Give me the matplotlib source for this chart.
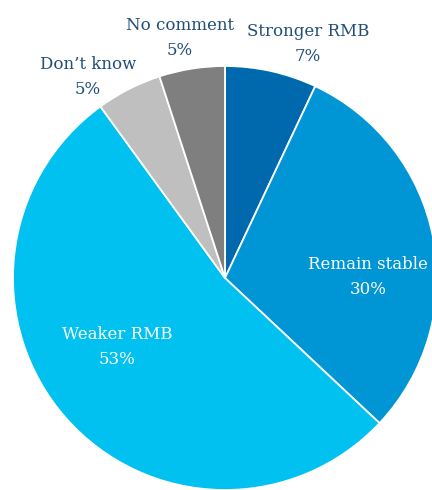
import matplotlib
matplotlib.use("Agg")
import matplotlib.pyplot as plt

# Survey responses: expected RMB movement
categories = ["Stronger RMB", "Remain stable", "Weaker RMB", "Don\u2019t know", "No comment"]
shares = [7, 30, 53, 5, 5]
colors = ["#0068AD", "#0095D4", "#00C1F0", "#BFBFBF", "#7F7F7F"]

# label anchor points (data units, pie radius = 1) and text colours
label_pos = [(0.392, 1.104), (0.675, 0.005), (-0.509, -0.325), (-0.646, 0.948), (-0.212, 1.132)]
label_col = ["#1F4E79", "white", "white", "#1F4E79", "#1F4E79"]

W, H = 432, 490
fig = plt.figure(figsize=(W / 100, H / 100), dpi=100)
cx, cy, r = 225, 278, 212
ax = fig.add_axes([(cx - r) / W, (H - cy - r) / H, 2 * r / W, 2 * r / H])
ax.pie(shares, colors=colors, startangle=90, counterclock=False, radius=1,
       wedgeprops=dict(edgecolor="white", linewidth=1.3))
ax.set_xlim(-1, 1)
ax.set_ylim(-1, 1)
ax.set_axis_off()

for name, val, (x, y), c in zip(categories, shares, label_pos, label_col):
    ax.text(x, y, f"{name}\n{val}%", ha="center", va="center", color=c,
            fontsize=12, family="DejaVu Serif", linespacing=1.62)

fig.savefig("out.png", dpi=100)
